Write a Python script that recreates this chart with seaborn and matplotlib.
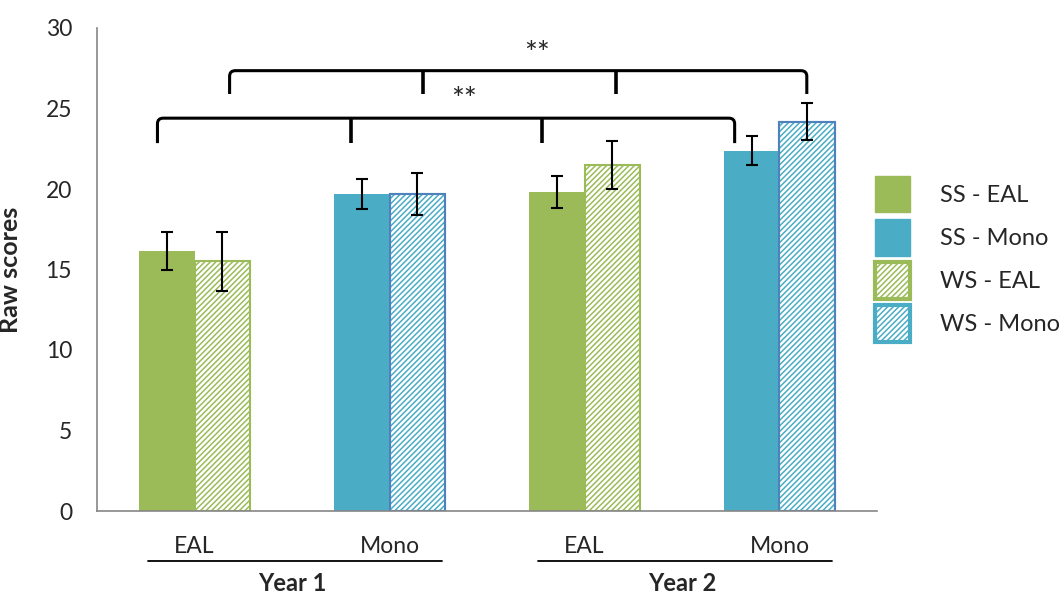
import matplotlib
matplotlib.use("Agg")
import matplotlib.pyplot as plt
from matplotlib.patches import Patch, Rectangle
from matplotlib.path import Path
from matplotlib.patches import PathPatch
import seaborn as sns
import pandas as pd

# ---- data ----
groups = ["Year 1 EAL", "Year 1 Mono", "Year 2 EAL", "Year 2 Mono"]
tick_labels = ["EAL", "Mono", "EAL", "Mono"]
years = ["Year 1", "Year 2"]
ss_scores = [16.15, 19.68, 19.8, 22.38]
ss_err = [1.16, 0.94, 1.0, 0.89]
ws_scores = [15.5, 19.68, 21.49, 24.18]
ws_err = [1.85, 1.29, 1.51, 1.16]
legend_labels = ["SS - EAL", "SS - Mono", "WS - EAL", "WS - Mono"]

# significance brackets: (tick x positions, top y, end y, star x, star baseline y)
brackets = [
    ([-0.19, 0.80, 1.78, 2.77], 24.4, 22.85, 1.38, 24.95),
    ([0.18, 1.17, 2.16, 3.14], 27.35, 25.9, 1.755, 27.8),
]

green = "#9BBB59"
blue = "#4BACC6"
blue_edge = "#4F81BD"
grey = "#868686"

df = pd.DataFrame({
    "group": groups * 2,
    "type": ["SS"] * 4 + ["WS"] * 4,
    "score": ss_scores + ws_scores,
})

sns.set_style("white")
plt.rcParams["font.family"] = ["Lato", "DejaVu Sans"]
plt.rcParams["hatch.linewidth"] = 1.1

fig = plt.figure(figsize=(10.61, 5.95), dpi=100)
ax = fig.add_axes([97 / 1061, 84 / 595, 780 / 1061, 483 / 595])

sns.barplot(data=df, x="group", y="score", hue="type", order=groups,
            hue_order=["SS", "WS"], width=0.57, errorbar=None,
            legend=False, ax=ax, saturation=1)

ss_bars, ws_bars = ax.containers[0], ax.containers[1]
for i, (p, q) in enumerate(zip(ss_bars, ws_bars)):
    col = green if tick_labels[i] == "EAL" else blue
    p.set_facecolor(col)
    p.set_edgecolor("none")
    q.set_facecolor("white")
    q.set_edgecolor(col)
    q.set_hatch("//////")
    q.set_linewidth(1.5)
    if tick_labels[i] == "Mono":
        ax.add_patch(Rectangle((q.get_x(), q.get_y()), q.get_width(), q.get_height(),
                               fill=False, edgecolor=blue_edge, linewidth=1.5,
                               zorder=q.get_zorder() + 0.1))

# error bars
for bars, vals, errs in [(ss_bars, ss_scores, ss_err), (ws_bars, ws_scores, ws_err)]:
    xs = [b.get_x() + b.get_width() / 2 for b in bars]
    ax.errorbar(xs, vals, yerr=errs, fmt="none", ecolor="black",
                elinewidth=1.5, capsize=4.5, capthick=1.5, zorder=5)

# brackets
dx, dy = 0.03, 0.35
for xs, ytop, ybot, sx, sy in brackets:
    x0, x1 = xs[0], xs[-1]
    verts = [(x0, ybot), (x0, ytop - dy), (x0, ytop), (x0 + dx, ytop),
             (x1 - dx, ytop), (x1, ytop), (x1, ytop - dy), (x1, ybot)]
    codes = [Path.MOVETO, Path.LINETO, Path.CURVE3, Path.CURVE3,
             Path.LINETO, Path.CURVE3, Path.CURVE3, Path.LINETO]
    ax.add_patch(PathPatch(Path(verts, codes), fill=False, edgecolor="black",
                           linewidth=2.2, zorder=6, capstyle="butt"))
    for xm in xs[1:-1]:
        ax.plot([xm, xm], [ytop, ybot], color="black", linewidth=2.6,
                solid_capstyle="butt", zorder=6)
    ax.text(sx, sy, "**", ha="center", va="baseline", fontsize=22, zorder=6)

ax.set_ylim(0, 30)
ax.set_xlim(-0.5, 3.5)
ax.set_yticks(range(0, 31, 5))
ax.set_xticks([-0.5, 0.5, 1.5, 2.5, 3.5])
ax.set_xticklabels([])
ax.set_xticks(range(4), minor=True)
ax.set_xticklabels(tick_labels, minor=True, fontsize=16.5)
ax.tick_params(axis="x", which="major", direction="out", length=8, color=grey, width=1.2)
ax.tick_params(axis="x", which="minor", length=0, pad=18)
ax.tick_params(axis="y", direction="out", length=8, color=grey, width=1.2,
               labelsize=16.5, pad=10)
ax.set_xlabel("")
ax.set_ylabel("Raw scores", fontsize=18, fontweight="bold")
ax.yaxis.set_label_coords(-0.096, 0.5)

sns.despine(ax=ax)
for s in ["left", "bottom"]:
    ax.spines[s].set_color(grey)
    ax.spines[s].set_linewidth(1.2)

# year labels with rules under the tick labels
for k, yr in enumerate(years):
    lo, hi = 2 * k - 0.24, 2 * k + 1.27
    ax.plot([lo, hi], [-0.104, -0.104], transform=ax.get_xaxis_transform(),
            color="black", linewidth=1.3, clip_on=False)
    ax.text(2 * k + 0.5, -0.151, yr, transform=ax.get_xaxis_transform(),
            ha="center", va="center", fontsize=17, fontweight="bold")

handles = [
    Patch(facecolor=green, edgecolor=green),
    Patch(facecolor=blue, edgecolor=blue),
    Patch(facecolor="white", edgecolor=green, hatch="//////", linewidth=3),
    Patch(facecolor="white", edgecolor=blue, hatch="//////", linewidth=3),
]
fig.legend(handles, legend_labels, loc="upper left",
           bbox_to_anchor=(875 / 1061, 1 - 176 / 595), frameon=False,
           fontsize=17, handlelength=1.5, handleheight=2.0,
           handletextpad=1.25, labelspacing=0.28, borderpad=0, borderaxespad=0)

fig.savefig("out.png", dpi=100)
